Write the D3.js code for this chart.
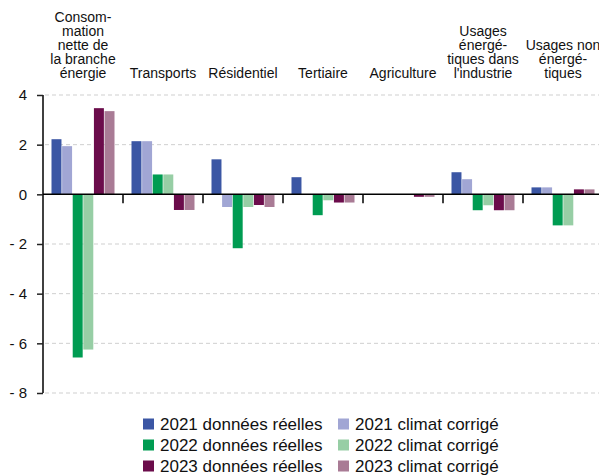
<!DOCTYPE html>
<html>
<head>
<meta charset="utf-8">
<script src="https://cdn.jsdelivr.net/npm/d3@7"></script>
<style>
	body { margin: 0; background: #fff; }
	svg { font-family: "Liberation Sans", Arial, sans-serif; }
</style>
</head>
<body>
<svg id="chart" width="599" height="475"></svg>
<script>
"use strict";

// Data

const categories = [
	"Consom-\nmation\nnette de\nla branche\nénergie",
	"Transports",
	"Résidentiel",
	"Tertiaire",
	"Agriculture",
	"Usages\nénergé-\ntiques dans\nl'industrie",
	"Usages non\nénergé-\ntiques"
];

const seriesNames = [
	"2021 données réelles",
	"2021 climat corrigé",
	"2022 données réelles",
	"2022 climat corrigé",
	"2023 données réelles",
	"2023 climat corrigé"
];

const seriesColors = ["#3b56a4", "#a1a6d4", "#009c52", "#97cea5", "#6b0c4b", "#a97b95"];

const values2021Reel = [2.22, 2.14, 1.41, 0.69, 0, 0.89, 0.28];
const values2021Cc = [1.94, 2.14, -0.51, 0, 0, 0.61, 0.28];
const values2022Reel = [-6.57, 0.8, -2.17, -0.84, 0, -0.64, -1.25];
const values2022Cc = [-6.25, 0.8, -0.51, -0.24, 0, -0.44, -1.25];
const values2023Reel = [3.47, -0.63, -0.43, -0.33, -0.1, -0.64, 0.2];
const values2023Cc = [3.35, -0.63, -0.51, -0.33, -0.1, -0.64, 0.2];

const yTicks = [4, 2, 0, -2, -4, -6, -8];

const allValues = [values2021Reel, values2021Cc, values2022Reel, values2022Cc, values2023Reel, values2023Cc];

// Scales

const svg = d3.select("#chart");

const x0 = d3.scaleBand()
	.domain(categories)
	.range([43, 603])
	.padding(0);

const x1 = d3.scaleBand()
	.domain(seriesNames)
	.range([8.5, 71.5])
	.paddingInner(0.06);

const y = d3.scaleLinear()
	.domain([-8, 4])
	.range([393, 95]);

// Gridlines
svg.append("g")
	.selectAll("line")
	.data(yTicks.filter(function(d) { return d != 0; }))
	.enter()
	.append("line")
	.attr("x1", 45)
	.attr("x2", 599)
	.attr("y1", function(d) { return y(d); })
	.attr("y2", function(d) { return y(d); })
	.style("stroke", "#cfcfcf")
	.style("stroke-width", 1)
	.style("stroke-dasharray", "4,3");

// Bars
const groups = svg.append("g")
	.selectAll("g")
	.data(categories)
	.enter()
	.append("g")
	.attr("transform", function(d) { return "translate(" + x0(d) + ",0)"; });

groups.selectAll("rect")
	.data(function(d, i) {
		return seriesNames.map(function(s, j) {
			return { series: s, value: allValues[j][i], color: seriesColors[j] };
		});
	})
	.enter()
	.append("rect")
	.attr("x", function(d) { return x1(d.series); })
	.attr("width", x1.bandwidth())
	.attr("y", function(d) { return y(Math.max(0, d.value)); })
	.attr("height", function(d) { return Math.abs(y(d.value) - y(0)); })
	.style("fill", function(d) { return d.color; });

// Y axis
const yAxis = d3.axisLeft(y)
	.tickValues(yTicks)
	.tickSize(6)
	.tickPadding(10)
	.tickFormat(function(d) { return d < 0 ? "- " + Math.abs(d) : d; });

const yAxisG = svg.append("g")
	.attr("transform", "translate(43,0)")
	.call(yAxis);

yAxisG.select(".domain").attr("d", "M0," + y(4) + "V" + y(-8)).style("stroke", "#000").style("stroke-width", 1.5);
yAxisG.selectAll(".tick line").style("stroke", "#222").style("stroke-width", 1.5);
yAxisG.selectAll(".tick text")
	.style("font-size", "15px")
	.style("font-family", "'Liberation Sans', Arial, sans-serif")
	.style("fill", "#111");

// Zero line
svg.append("line")
	.attr("x1", 43)
	.attr("x2", 599)
	.attr("y1", y(0))
	.attr("y2", y(0))
	.style("stroke", "#000")
	.style("stroke-width", 1.5);

// Category separators
svg.append("g")
	.selectAll("line")
	.data(categories.slice(1))
	.enter()
	.append("line")
	.attr("x1", function(d) { return x0(d); })
	.attr("x2", function(d) { return x0(d); })
	.attr("y1", y(0))
	.attr("y2", y(0) + 9)
	.style("stroke", "#000")
	.style("stroke-width", 1.5);

// Category labels (bottom aligned above the plot)
const lineHeight = 14;
svg.append("g")
	.selectAll("text")
	.data(categories)
	.enter()
	.append("text")
	.attr("text-anchor", "middle")
	.style("font-size", "14px")
	.style("fill", "#111")
	.each(function(d) {
		const lines = d.split("\n");
		const cx = x0(d) + x0.bandwidth() / 2;
		const el = d3.select(this);
		lines.forEach(function(l, i) {
			el.append("tspan")
				.attr("x", cx)
				.attr("y", 78 - (lines.length - 1 - i) * lineHeight)
				.text(l);
		});
	});

// Legend
const legendX = [143, 338];
const legendY = [424, 445, 466];

const legend = svg.append("g")
	.selectAll("g")
	.data(seriesNames)
	.enter()
	.append("g")
	.attr("transform", function(d, i) {
		return "translate(" + legendX[i % 2] + "," + legendY[Math.floor(i / 2)] + ")";
	});

legend.append("rect")
	.attr("x", 0)
	.attr("y", -5.5)
	.attr("width", 11)
	.attr("height", 11)
	.style("fill", function(d, i) { return seriesColors[i]; });

legend.append("text")
	.attr("x", 17)
	.attr("y", 6)
	.style("font-size", "17px")
	.style("fill", "#111")
	.text(function(d) { return d; });
</script>
</body>
</html>
